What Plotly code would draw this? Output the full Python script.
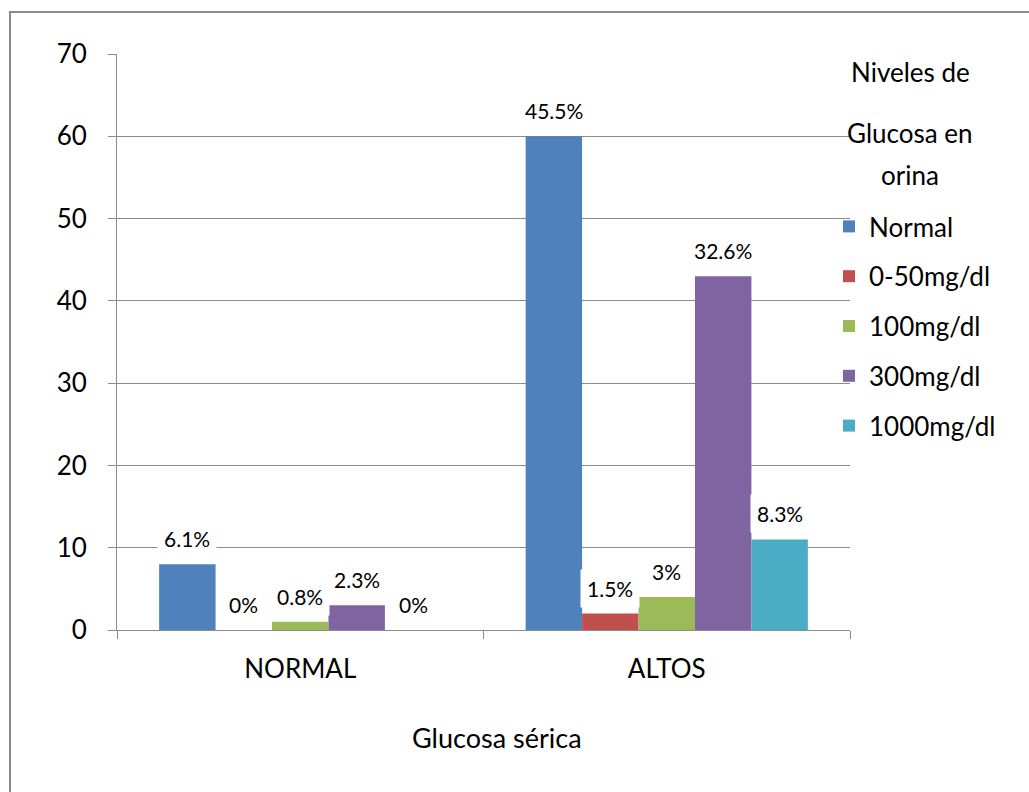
import plotly.graph_objects as go

# Serum glucose groups and urine glucose levels
categories = ["NORMAL", "ALTOS"]
series_names = ["Normal", "0-50mg/dl", "100mg/dl", "300mg/dl", "1000mg/dl"]
counts_normal = [8, 0, 1, 3, 0]
counts_altos = [60, 2, 4, 43, 11]
y_ticks = [0, 10, 20, 30, 40, 50, 60, 70]
colors = ["#4F81BD", "#C0504D", "#9BBB59", "#8064A2", "#4BACC6"]

total = sum(counts_normal) + sum(counts_altos)


def pct_label(v):
    p = round(v / total * 100, 1)
    return f"{p:g}%"


W, H = 1029, 792
L, R, T, B = 117, 850, 54, 630
FONT = "Lato"
GRID = "#8c8c8c"


def px_x(px):
    return (px - L) / (R - L)


def px_y(py):
    return (B - py) / (B - T)


bargap = 0.23
n = len(series_names)
bw = (1 - bargap) / n

fig = go.Figure()
annotations = []
for j, name in enumerate(series_names):
    vals = [counts_normal[j], counts_altos[j]]
    fig.add_trace(go.Bar(
        x=list(range(len(categories))),
        y=vals,
        name=name,
        legendgroup=name,
        marker=dict(color=colors[j], line=dict(width=0)),
    ))
    for i, v in enumerate(vals):
        annotations.append(dict(
            x=i - (1 - bargap) / 2 + bw * (j + 0.5),
            y=v,
            xref="x", yref="y",
            text=pct_label(v),
            showarrow=False,
            yanchor="bottom",
            yshift=6,
            bgcolor="white",
            borderpad=6,
            font=dict(family=FONT, size=21, color="#000000"),
        ))

for txt, cx, cy, fs in [("Niveles de", 910, 72, 26), ("Glucosa en", 910, 133, 26),
                        ("orina", 910, 175, 26), ("Glucosa sérica", 497, 737, 27)]:
    annotations.append(dict(
        x=px_x(cx), y=px_y(cy), xref="paper", yref="paper",
        text=txt, showarrow=False, xanchor="center", yanchor="middle",
        font=dict(family=FONT, size=fs, color="#000000"),
    ))

fig.update_layout(
    width=W, height=H,
    margin=dict(l=L, r=W - R, t=T, b=H - B, pad=0),
    paper_bgcolor="white", plot_bgcolor="white",
    barmode="group", bargap=bargap, bargroupgap=0,
    font=dict(family=FONT, size=25, color="#000000"),
    showlegend=True,
    legend=dict(
        x=px_x(829), y=px_y(203), xanchor="left", yanchor="top",
        font=dict(family=FONT, size=26, color="#000000"),
        tracegroupgap=13, bgcolor="rgba(0,0,0,0)", borderwidth=0,
    ),
    annotations=annotations,
    shapes=[dict(
        type="rect", xref="paper", yref="paper",
        x0=px_x(10), y0=px_y(820), x1=px_x(1060), y1=px_y(12),
        line=dict(color="#8a8a8a", width=2), fillcolor="rgba(0,0,0,0)",
        layer="below",
    )],
)

fig.update_xaxes(
    range=[-0.5, 1.5],
    tickmode="array", tickvals=list(range(len(categories))), ticktext=categories,
    ticks="", showgrid=False, zeroline=False,
    showline=True, linecolor=GRID, linewidth=1,
    ticklabelstandoff=16,
    minor=dict(tickmode="array", tickvals=[-0.5, 0.5, 1.5], ticks="outside",
               ticklen=8, tickcolor=GRID, tickwidth=1, showgrid=False),
    tickfont=dict(family=FONT, size=26, color="#000000"),
)
fig.update_yaxes(
    range=[0, 70],
    tickmode="array", tickvals=y_ticks,
    ticks="outside", ticklen=8, tickcolor=GRID, tickwidth=1,
    showgrid=True, gridcolor=GRID, gridwidth=1, zeroline=False,
    showline=True, linecolor=GRID, linewidth=1,
    ticklabelstandoff=16,
    tickfont=dict(family=FONT, size=26, color="#000000"),
)

fig.write_html("out.html")
